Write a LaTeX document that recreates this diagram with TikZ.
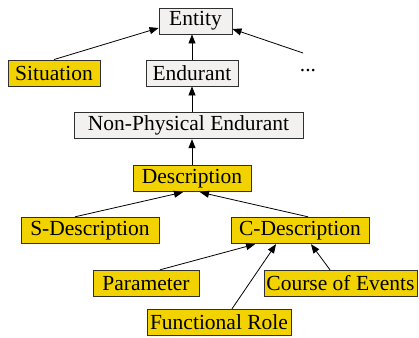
\documentclass[tikz,border=0pt]{standalone}
\usepackage{fontspec}
\newfontfamily\tnr{Liberation Serif}
\usetikzlibrary{arrows.meta,calc}
\definecolor{boxyellow}{HTML}{F2D300}
\definecolor{boxgray}{HTML}{F3F0F0}
\definecolor{boxline}{HTML}{303030}
\tikzset{
  base/.style={draw=boxline, line width=0.9pt, inner sep=0pt, minimum height=26.5pt,
    font=\tnr\fontsize{21.5}{24}\selectfont, text=black, anchor=center},
  ybox/.style={base, fill=boxyellow},
  gbox/.style={base, fill=boxgray},
  arr/.style={line width=0.8pt, -{Triangle[length=9pt,width=7pt]}},
}
\begin{document}
\begin{tikzpicture}[x=1pt,y=-1pt]
\path[fill=white] (0,0) rectangle (419,337);
\useasboundingbox (0,0) rectangle (419,337);
\node[gbox, minimum width=73pt, minimum height=26pt] (entity) at (195.5,21) {Entity};
\node[ybox, minimum width=92pt, minimum height=26pt] (situation) at (54,73) {Situation};
\node[gbox, minimum width=92pt, minimum height=26pt] (endurant) at (192,73) {Endurant};
\node[font=\tnr\fontsize{21.5}{24}\selectfont, inner sep=0pt] (dots) at (308,71) {...};
\node[gbox, minimum width=229pt] (npe) at (188.5,125.5) {Non-Physical Endurant};
\node[ybox, minimum width=118pt] (desc) at (192,178.5) {Description};
\node[ybox, minimum width=138pt] (sdesc) at (90,230.5) {S-Description};
\node[ybox, minimum width=138pt] (cdesc) at (300,230.5) {C-Description};
\node[ybox, minimum width=106pt] (param) at (146,283.5) {Parameter};
\node[ybox, minimum width=153pt] (coe) at (340.5,283.5) {Course of Events};
\node[ybox, minimum width=144pt] (frole) at (219,322.5) {Functional Role};

\draw[arr] (situation.north) -- ([yshift=-7pt]entity.west);
\draw[arr] ($(dots.center)+(-5,-18)$) -- ([yshift=-8pt]entity.east);
\draw[arr] (endurant.north) -- (endurant.north |- entity.south);
\draw[arr] (endurant.south |- npe.north) -- (endurant.south);
\draw[arr] (desc.north) -- (desc.north |- npe.south);
\draw[arr] ([xshift=-15pt]sdesc.north) -- ([xshift=-9pt]desc.south);
\draw[arr] ([xshift=8pt]cdesc.north) -- ([xshift=8pt]desc.south);
\draw[arr] ([xshift=14pt]param.north) -- ([xshift=-45pt]cdesc.south);
\draw[arr] ([xshift=13pt]frole.north) -- ([xshift=-24pt]cdesc.south);
\draw[arr] ([xshift=-10.5pt]coe.north) -- ([xshift=11pt]cdesc.south);
\end{tikzpicture}
\end{document}
